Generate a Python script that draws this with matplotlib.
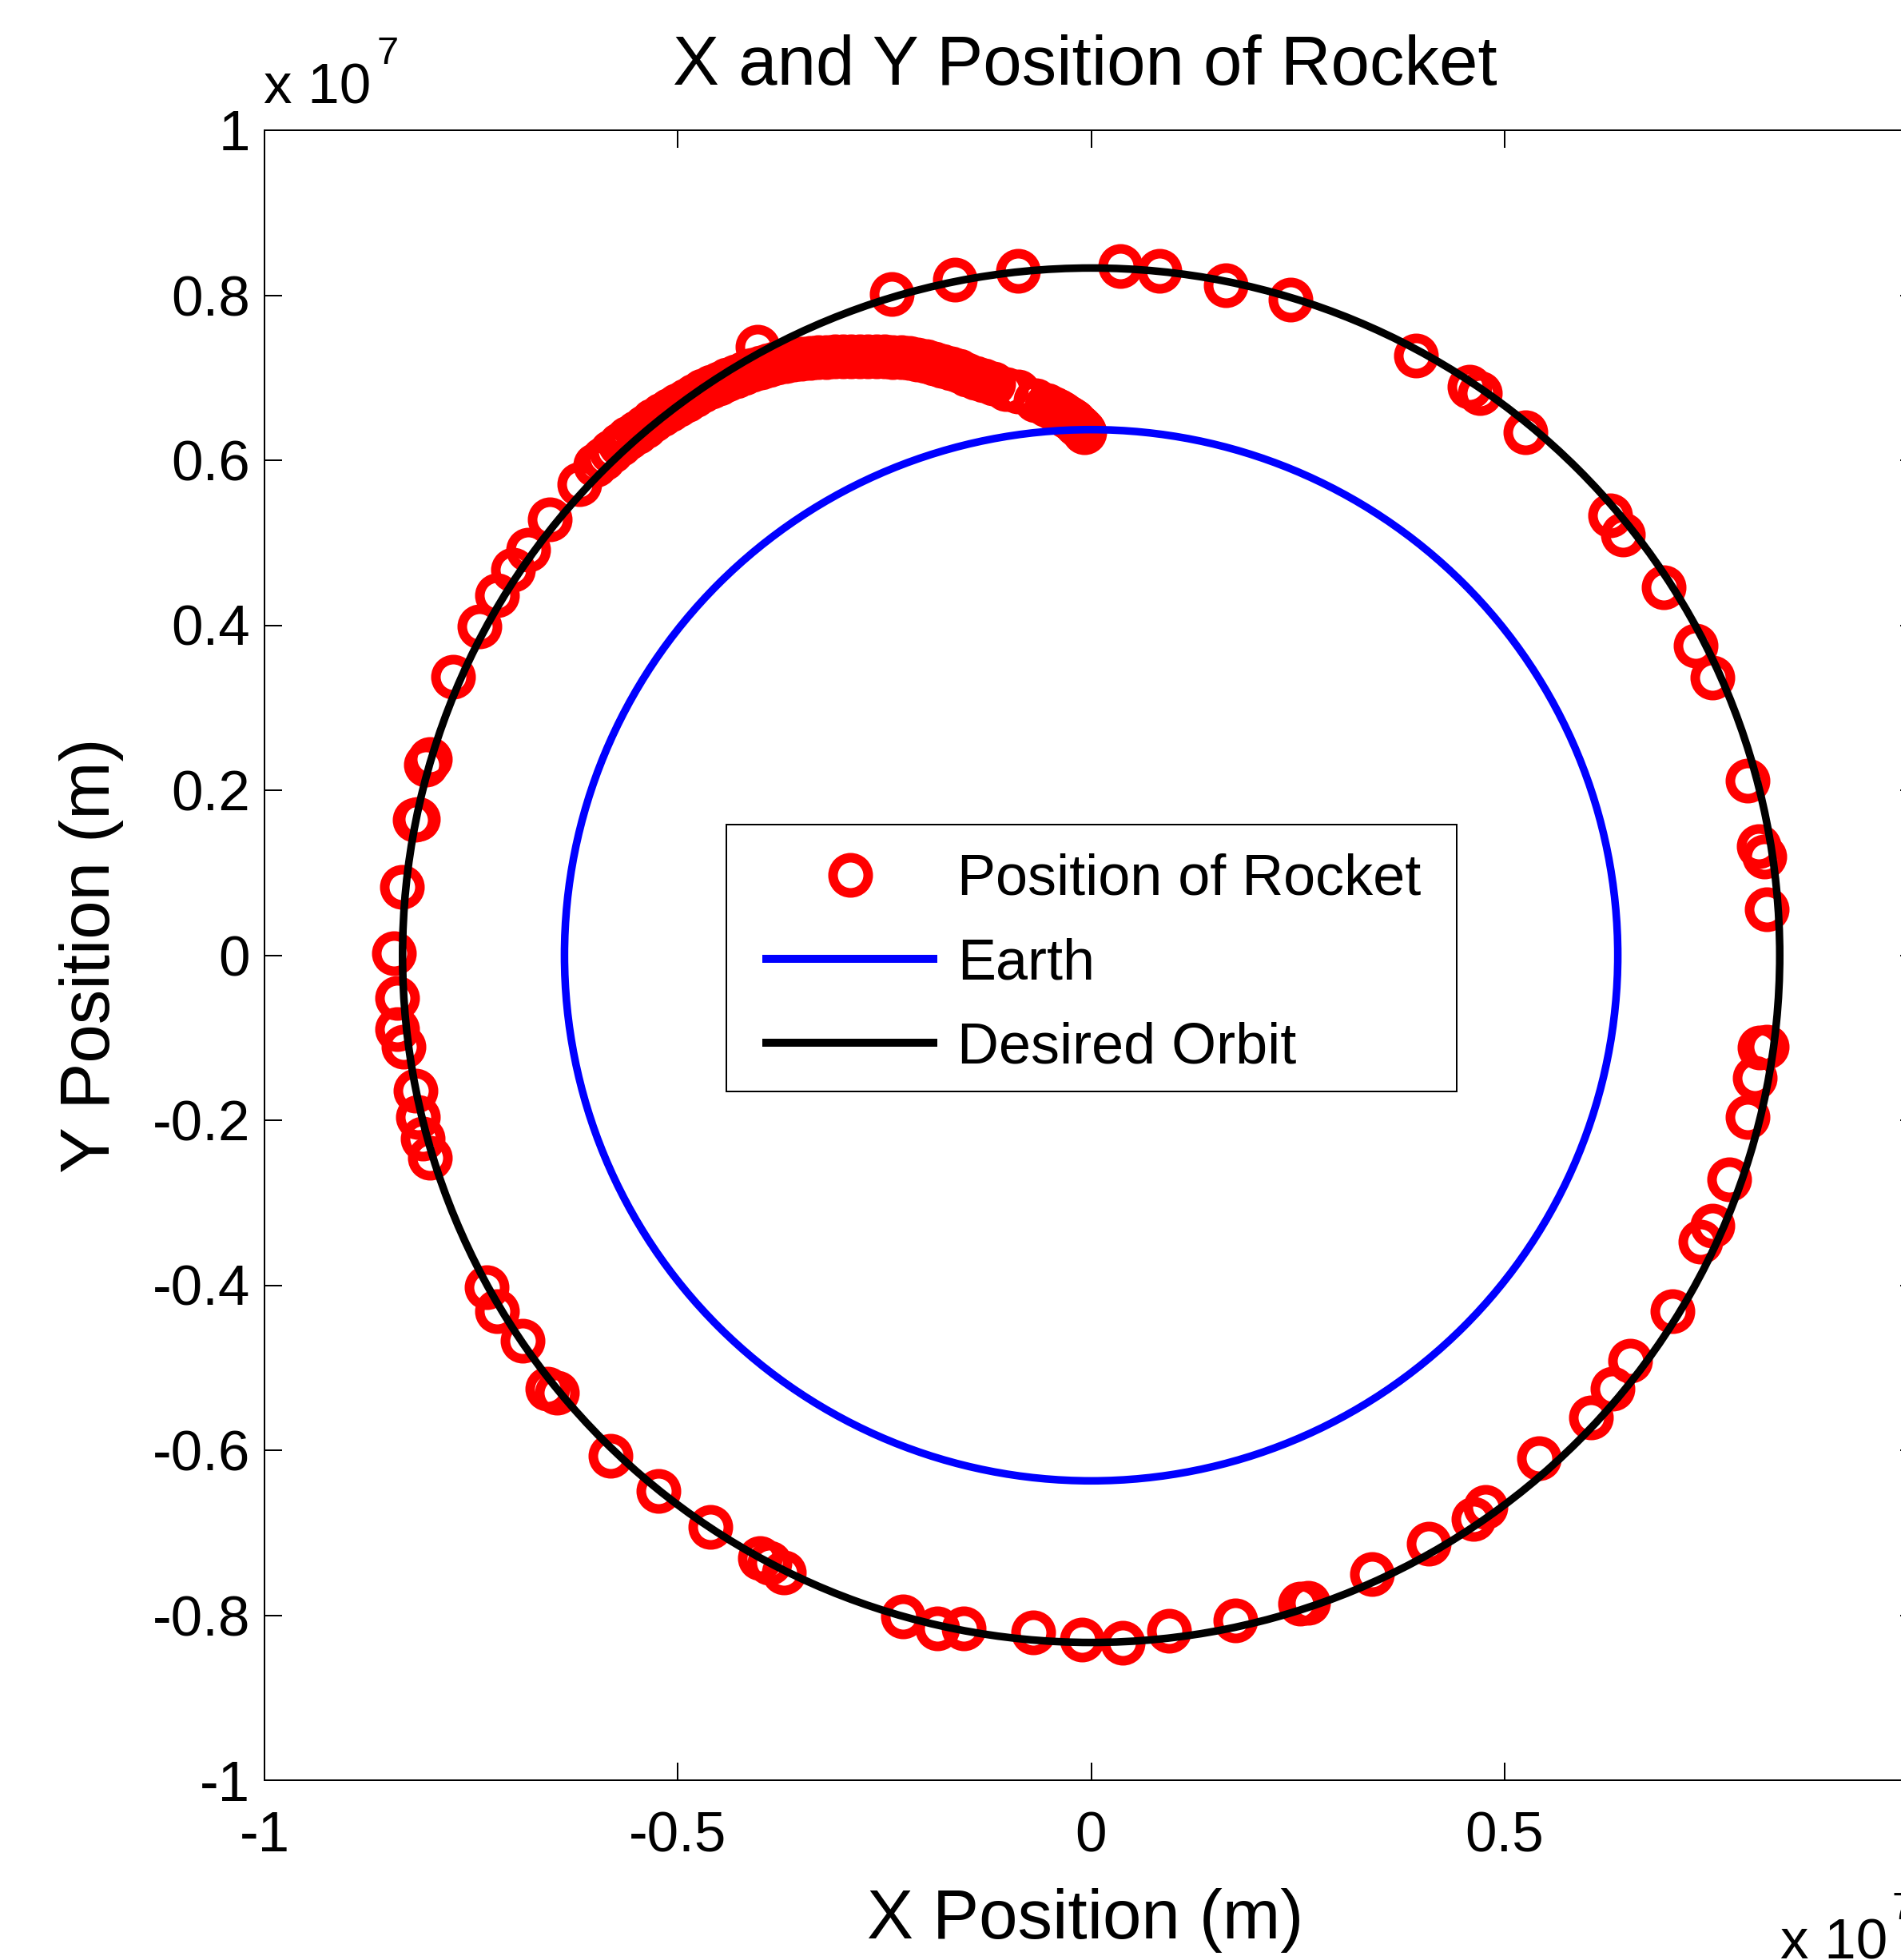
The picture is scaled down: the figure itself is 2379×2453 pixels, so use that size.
import matplotlib
matplotlib.use("Agg")
import matplotlib.pyplot as plt
from matplotlib.patches import Circle, Rectangle
from matplotlib.lines import Line2D

plt.rcParams["font.family"] = ["Liberation Sans", "DejaVu Sans"]

# ---------------- data (positions in units of 1e7 m) ----------------
SCALE = 1e7

# sparse samples around the orbit
orbit_pts_x = [-0.404, -0.241, -0.165, -0.088, 0.035, 0.083, 0.163, 0.241, 0.393, 0.458,
               0.470, 0.525, 0.628, 0.643, 0.693, 0.731, 0.752, 0.794, 0.808, 0.814,
               0.817, 0.817, 0.809, 0.803, 0.794, 0.772, 0.752, 0.737, 0.703, 0.652,
               0.631, 0.605, 0.542, 0.477, 0.463, 0.408, 0.340, 0.262, 0.253, 0.174,
               0.094, 0.038, -0.011, -0.070, -0.154, -0.186, -0.228, -0.372, -0.389, -0.401,
               -0.461, -0.523, -0.581, -0.646, -0.658, -0.688, -0.719, -0.731, -0.800, -0.809,
               -0.814, -0.817, -0.832, -0.840, -0.840, -0.843, -0.834, -0.818, -0.814, -0.805,
               -0.800, -0.772, -0.740, -0.719, -0.699, -0.681, -0.655, -0.619]
orbit_pts_y = [0.738, 0.801, 0.819, 0.830, 0.835, 0.830, 0.812, 0.795, 0.727, 0.689,
               0.681, 0.634, 0.533, 0.510, 0.446, 0.375, 0.337, 0.212, 0.132, 0.120,
               0.056, -0.111, -0.112, -0.149, -0.196, -0.272, -0.328, -0.347, -0.431, -0.492,
               -0.525, -0.560, -0.610, -0.669, -0.683, -0.713, -0.750, -0.785, -0.786, -0.806,
               -0.819, -0.833, -0.830, -0.821, -0.816, -0.816, -0.801, -0.748, -0.737, -0.731,
               -0.693, -0.649, -0.607, -0.530, -0.525, -0.467, -0.431, -0.402, -0.246, -0.222,
               -0.196, -0.164, -0.111, -0.090, -0.052, 0.002, 0.083, 0.164, 0.165, 0.231,
               0.238, 0.338, 0.399, 0.436, 0.467, 0.492, 0.528, 0.571]

# dense samples of the ascent
ascent_x = [-0.008, -0.009, -0.011, -0.013, -0.015, -0.018, -0.021, -0.024, -0.027, -0.031,
            -0.035, -0.040, -0.046, -0.054, -0.067, -0.088, -0.103, -0.118, -0.130, -0.140,
            -0.150, -0.160, -0.170, -0.180, -0.190, -0.200, -0.210, -0.220, -0.230, -0.240,
            -0.250, -0.260, -0.270, -0.280, -0.290, -0.300, -0.310, -0.320, -0.330, -0.340,
            -0.350, -0.360, -0.370, -0.380, -0.390, -0.400, -0.410, -0.420, -0.430, -0.440,
            -0.450, -0.460, -0.470, -0.480, -0.490, -0.500, -0.510, -0.520, -0.530, -0.540,
            -0.550, -0.560, -0.570, -0.580, -0.590, -0.600]
ascent_y = [0.634, 0.636, 0.638, 0.640, 0.642, 0.644, 0.647, 0.649, 0.651, 0.654,
            0.657, 0.660, 0.663, 0.667, 0.673, 0.683, 0.686, 0.693, 0.697, 0.700,
            0.704, 0.708, 0.711, 0.714, 0.717, 0.720, 0.722, 0.724, 0.725, 0.725,
            0.726, 0.726, 0.726, 0.726, 0.726, 0.726, 0.726, 0.725, 0.725, 0.724,
            0.723, 0.722, 0.720, 0.718, 0.715, 0.712, 0.709, 0.706, 0.702, 0.698,
            0.693, 0.689, 0.684, 0.678, 0.673, 0.667, 0.661, 0.655, 0.648, 0.641,
            0.634, 0.627, 0.619, 0.611, 0.602, 0.594]

earth_radius = 6.371e6
orbit_radius = 8.33e6

x_ticks = [-1, -0.5, 0, 0.5]
x_tick_labels = ["-1", "-0.5", "0", "0.5"]
y_ticks = [-1, -0.8, -0.6, -0.4, -0.2, 0, 0.2, 0.4, 0.6, 0.8, 1]
y_tick_labels = ["-1", "-0.8", "-0.6", "-0.4", "-0.2", "0", "0.2", "0.4", "0.6", "0.8", "1"]

title = "X and Y Position of Rocket"
xlabel = "X Position (m)"
ylabel = "Y Position (m)"
legend_labels = ["Position of Rocket", "Earth", "Desired Orbit"]

# ---------------- figure ----------------
W, H, DPI = 2379, 2453, 100


def pt(pixels):
    return pixels * 72.0 / DPI


fig = plt.figure(figsize=(W / DPI, H / DPI), dpi=DPI)
fig.patch.set_facecolor("white")
ax = fig.add_axes([331 / W, 1 - 2228 / H, (2400 - 331) / W, (2228 - 163) / H])

MS, MEW, LW = pt(44), pt(12), pt(9.5)

rx = [v * SCALE for v in ascent_x + orbit_pts_x]
ry = [v * SCALE for v in ascent_y + orbit_pts_y]
ax.plot(rx, ry, linestyle="none", marker="o", ms=MS, mfc="none",
        mec="#ff0000", mew=MEW, zorder=2)

ax.add_patch(Circle((0, 0), earth_radius, fill=False, ec="#0000ff", lw=LW, zorder=3))
ax.add_patch(Circle((0, 0), orbit_radius, fill=False, ec="black", lw=LW, zorder=4))

ax.set_xlim(-1 * SCALE, 1 * SCALE)
ax.set_ylim(-1 * SCALE, 1 * SCALE)
ax.set_xticks([v * SCALE for v in x_ticks])
ax.set_xticklabels(x_tick_labels)
ax.set_yticks([v * SCALE for v in y_ticks])
ax.set_yticklabels(y_tick_labels)

ax.tick_params(axis="both", direction="in", length=pt(22), width=pt(2), color="black",
               top=True, right=True, labelsize=pt(71))
ax.tick_params(axis="x", pad=pt(38))
ax.tick_params(axis="y", pad=pt(18))
for s in ax.spines.values():
    s.set_linewidth(pt(2))
    s.set_color("black")

ax.set_title(title, fontsize=pt(87), x=0.4965, y=(2228 - 106) / 2065, pad=0, va="baseline")
ax.set_xlabel(xlabel, fontsize=pt(87))
ax.xaxis.set_label_coords(0.4965, (2228 - 2363) / 2065)
ax.xaxis.label.set_va("top")
ax.set_ylabel(ylabel, fontsize=pt(87))
ax.yaxis.set_label_coords((155 - 331) / 2069, 0.5)

# exponent annotations
fig.text(330 / W, 1 - 130 / H, "x 10", fontsize=pt(71), ha="left", va="baseline")
fig.text(472 / W, 1 - 80 / H, "7", fontsize=pt(49), ha="left", va="baseline")
fig.text(2228 / W, 1 - 2452 / H, "x 10", fontsize=pt(71), ha="left", va="baseline")
fig.text(2368 / W, 1 - 2402 / H, "7", fontsize=pt(49), ha="left", va="baseline")

# legend
LEG_FS = 72
handles = [
    Line2D([], [], linestyle="none", marker="o", ms=MS, mfc="none", mec="#ff0000", mew=MEW),
    Line2D([], [], color="#0000ff", lw=pt(10)),
    Line2D([], [], color="black", lw=pt(10)),
]
leg = ax.legend(handles, legend_labels, loc="upper left",
                bbox_to_anchor=(959 / W, 1 - 1068 / H), bbox_transform=fig.transFigure,
                frameon=False, fontsize=pt(LEG_FS), handlelength=209 / LEG_FS,
                handletextpad=30 / LEG_FS, labelspacing=0.53, borderpad=0,
                borderaxespad=0, numpoints=1)
fig.add_artist(Rectangle((909 / W, 1 - 1366 / H), (1823 - 909) / W, (1366 - 1032) / H,
                         transform=fig.transFigure, fill=True, fc="white", ec="black",
                         lw=pt(2), zorder=4))
leg.set_zorder(5)
fig.add_artist(leg)

fig.savefig("out.png", dpi=DPI, facecolor="white")
